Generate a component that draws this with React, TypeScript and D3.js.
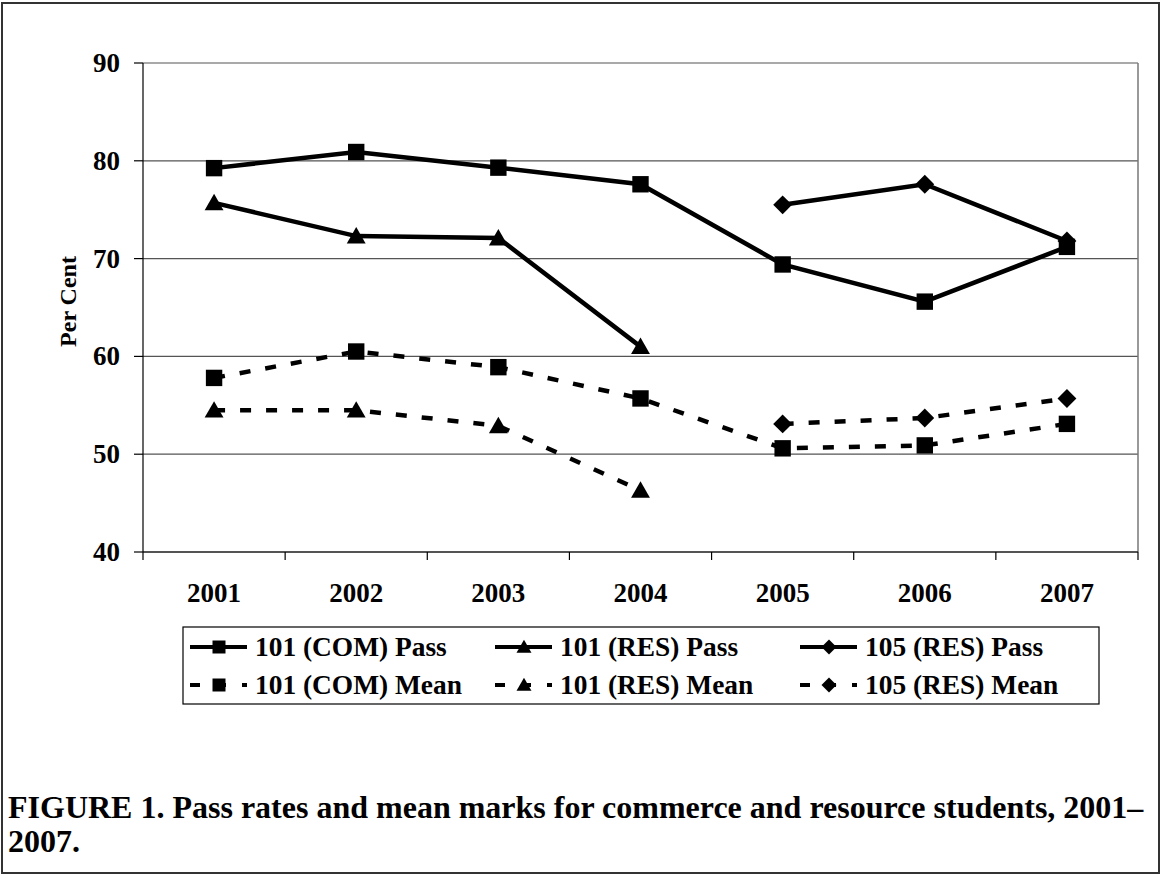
import React from 'react';
import * as d3 from 'd3';

// chart values
const years = ['2001', '2002', '2003', '2004', '2005', '2006', '2007'];
const comPass = [79.25, 80.9, 79.3, 77.6, 69.4, 65.6, 71.2];
const resPass = [75.7, 72.3, 72.1, 61.0, null, null, null];
const res105Pass = [null, null, null, null, 75.5, 77.6, 71.8];
const comMean = [57.8, 60.5, 58.9, 55.7, 50.6, 50.9, 53.1];
const resMean = [54.5, 54.5, 52.9, 46.3, null, null, null];
const res105Mean = [null, null, null, null, 53.1, 53.7, 55.7];
const yTicks = [40, 50, 60, 70, 80, 90];

const seriesNames = ['101 (COM) Pass', '101 (RES) Pass', '105 (RES) Pass', '101 (COM) Mean', '101 (RES) Mean', '105 (RES) Mean'];
const seriesValues = [comPass, resPass, res105Pass, comMean, resMean, res105Mean];
const seriesMarker = ['square', 'triangle', 'diamond', 'square', 'triangle', 'diamond'];
const seriesDashed = [false, false, false, true, true, true];

const W = 1162, H = 876;
const left = 143, right = 1138, top = 63, bottom = 552;
const font = '"Liberation Serif", "Times New Roman", serif';

function markerPath(kind: string, s: number) {
  if (kind === 'square') return `M${-s},${-s}H${s}V${s}H${-s}Z`;
  if (kind === 'triangle') return `M0,${-s * 1.1}L${s * 1.15},${s * 0.9}L${-s * 1.15},${s * 0.9}Z`;
  return `M0,${-s * 1.15}L${s * 1.15},0L0,${s * 1.15}L${-s * 1.15},0Z`;
}

export default function App() {
  const x = d3.scaleBand().domain(years).range([left, right]).paddingInner(0).paddingOuter(0);
  const y = d3.scaleLinear().domain([40, 90]).range([bottom, top]);
  const cx = (d: string) => (x(d) as number) + x.bandwidth() / 2;

  const line = d3.line<[string, number | null]>()
    .defined(d => d[1] != null)
    .x(d => cx(d[0]))
    .y(d => y(d[1] as number));

  const legendCols = [190, 495, 800];
  const legendRows = [647, 685];

  return (
    <svg width={W} height={H} style={{ position: 'absolute', left: 0, top: 0, fontFamily: font }}>
      <rect x={2} y={3} width={1157} height={870} fill="white" stroke="#333" strokeWidth={2} />

      {/* grid + plot border */}
      {yTicks.map(t => (
        <line key={t} x1={left} x2={right} y1={y(t)} y2={y(t)} stroke="#555" strokeWidth={1.2} />
      ))}
      <line x1={right} x2={right} y1={top} y2={bottom} stroke="#777" strokeWidth={1.5} />

      {/* y axis */}
      <line x1={left} x2={left} y1={top} y2={bottom} stroke="#000" strokeWidth={1.2} />
      {yTicks.map(t => (
        <g key={t}>
          <line x1={left - 9} x2={left} y1={y(t)} y2={y(t)} stroke="#000" strokeWidth={1.2} />
          <text x={120} y={y(t) + 9} textAnchor="end" fontSize={27} fontWeight="bold">{t}</text>
        </g>
      ))}
      <text transform={`translate(76,${(top + bottom) / 2 - 6}) rotate(-90)`} textAnchor="middle" fontSize={24} fontWeight="bold">Per Cent</text>

      {/* x axis */}
      <line x1={left} x2={right} y1={bottom} y2={bottom} stroke="#000" strokeWidth={1.2} />
      {years.concat(['end']).map((d, i) => {
        const xx = left + i * x.bandwidth();
        return <line key={d} x1={xx} x2={xx} y1={bottom} y2={bottom + 8} stroke="#000" strokeWidth={1.2} />;
      })}
      {years.map(d => (
        <text key={d} x={cx(d)} y={602} textAnchor="middle" fontSize={27} fontWeight="bold">{d}</text>
      ))}

      {/* series */}
      {seriesValues.map((vals, si) => {
        const pts = years.map((d, i) => [d, vals[i]] as [string, number | null]);
        return (
          <g key={si}>
            <path d={line(pts) || ''} fill="none" stroke="#000" strokeWidth={4.5}
              strokeDasharray={seriesDashed[si] ? '11 15' : undefined} />
            {pts.filter(p => p[1] != null).map(p => (
              <path key={p[0]} transform={`translate(${cx(p[0])},${y(p[1] as number)})`}
                d={markerPath(seriesMarker[si], 8.2)} fill="#000" />
            ))}
          </g>
        );
      })}

      {/* legend */}
      <rect x={183} y={627} width={916} height={77} fill="white" stroke="#000" strokeWidth={1.2} />
      {seriesNames.map((name, i) => {
        const lx = legendCols[i % 3];
        const ly = legendRows[Math.floor(i / 3)];
        return (
          <g key={name}>
            <line x1={lx} x2={lx + 57} y1={ly} y2={ly} stroke="#000" strokeWidth={4}
              strokeDasharray={seriesDashed[i] ? '10 16' : undefined} />
            <path transform={`translate(${lx + 29},${ly})`} d={markerPath(seriesMarker[i], 6.5)} fill="#000" />
            <text x={lx + 65} y={ly + 9} fontSize={27.4} fontWeight="bold">{name}</text>
          </g>
        );
      })}

      {/* caption */}
      <text x={8} y={818} fontSize={32} fontWeight="bold">FIGURE 1. Pass rates and mean marks for commerce and resource students, 2001–</text>
      <text x={8} y={852} fontSize={32} fontWeight="bold">2007.</text>
    </svg>
  );
}
